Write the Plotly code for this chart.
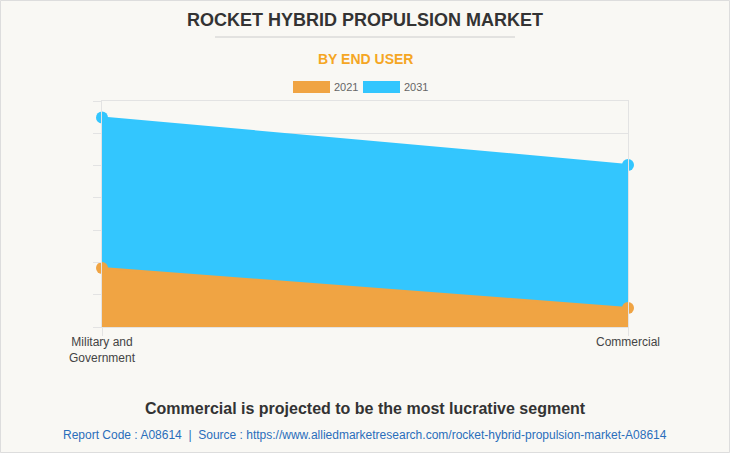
import plotly.graph_objects as go

categories = ["Military and<br>Government", "Commercial"]
years = ["2021", "2031"]
values_2021 = [183, 59]
values_2031 = [649, 502]
y_ticks = [0, 100, 200, 300, 400, 500, 600, 700]

c2021 = "#f0a443"
c2031 = "#33c6fe"
bg = "#f9f8f4"
grid = "#e3e3e3"
FONT = "Liberation Sans, Arial"

fig = go.Figure()
x = [0, 1]
fig.add_trace(go.Scatter(x=x, y=values_2031, name="2031", mode="lines+markers",
                         fill="tozeroy", fillcolor=c2031, cliponaxis=False,
                         line=dict(color=c2031, width=2),
                         marker=dict(size=12, color=c2031), showlegend=False))
fig.add_trace(go.Scatter(x=x, y=values_2021, name="2021", mode="lines+markers",
                         fill="tozeroy", fillcolor=c2021, cliponaxis=False,
                         line=dict(color=c2021, width=2),
                         marker=dict(size=12, color=c2021), showlegend=False))

L, R, T, B = 102, 102, 101, 126
W, H = 730, 453
pw, ph = W - L - R, H - T - B

def px(xp):
    return (xp - L) / pw

def py(yp):
    return (H - B - yp) / ph

shapes = []
annotations = []

def text(t, xp, yp, size, color, xanchor="center"):
    annotations.append(dict(text=t, xref="paper", yref="paper", x=px(xp), y=py(yp),
                            xanchor=xanchor, yanchor="middle", showarrow=False,
                            font=dict(size=size, color=color, family=FONT)))

# border
shapes.append(dict(type="rect", xref="paper", yref="paper", x0=px(0.5), x1=px(729.5),
                   y0=py(452.5), y1=py(0.5), line=dict(color="#dddddd", width=1), layer="below"))
# title underline
shapes.append(dict(type="line", xref="paper", yref="paper", x0=px(215), x1=px(515),
                   y0=py(37), y1=py(37), line=dict(color="#cccccc", width=1)))
text("<b>ROCKET HYBRID PROPULSION MARKET</b>", 365, 20, 18, "#333333")
text("<b>BY END USER</b>", 365, 59, 14, "#f5a623")
# legend
leg = [(293, c2021, years[0]), (363, c2031, years[1])]
for x0, col, lab in leg:
    shapes.append(dict(type="rect", xref="paper", yref="paper", x0=px(x0), x1=px(x0 + 37),
                       y0=py(93), y1=py(81), fillcolor=col, line=dict(width=0)))
    text(lab, x0 + 39, 87, 11, "#666666", xanchor="left")
text("<b>Commercial is projected to be the most lucrative segment</b>", 365, 408, 16, "#333333")
text("Report Code : A08614  |  Source : https://www.alliedmarketresearch.com/rocket-hybrid-propulsion-market-A08614",
     365, 435, 12, "#2a6ebb")

fig.update_layout(
    width=W, height=H, margin=dict(l=L, r=R, t=T, b=B),
    paper_bgcolor=bg, plot_bgcolor=bg,
    shapes=shapes, annotations=annotations,
    font=dict(family=FONT, color="#444444"),
)
fig.update_xaxes(range=[0, 1], tickvals=x, ticktext=categories, showgrid=True,
                 gridcolor=grid, ticks="outside", ticklen=8, tickcolor=grid,
                 ticklabelstandoff=-4,
                 tickfont=dict(size=12, color="#444444"), zeroline=False,
                 showline=True, mirror=True, linecolor=grid, fixedrange=True)
fig.update_yaxes(range=[0, 700], tickvals=y_ticks, showticklabels=False, showgrid=True,
                 gridcolor=grid, ticks="outside", ticklen=8, tickcolor=grid,
                 zeroline=False, showline=True, mirror=True, linecolor=grid, fixedrange=True)

fig.write_html("out.html", config={"displayModeBar": False},
               post_script="document.body.style.margin='0';document.body.style.overflow='hidden';")
